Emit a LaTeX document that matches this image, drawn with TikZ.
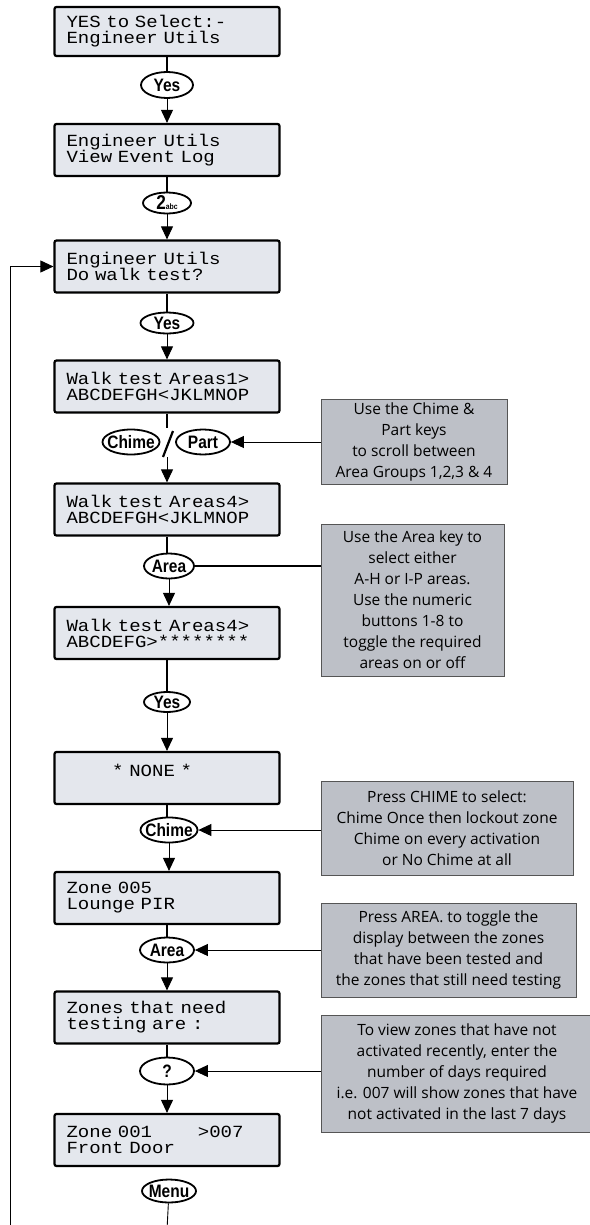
\documentclass[tikz,border=0pt]{standalone}
\usepackage{fontspec}
\usepackage{tikz}
\usetikzlibrary{
	arrows.meta,
	shapes.geometric
}
\newfontfamily\lcdfont[FakeStretch=1.12]{Liberation Mono}
\newfontfamily\keyfont[FakeStretch=0.86]{Liberation Sans}
\newfontfamily\notefont{Open Sans}
\definecolor{lcdgrey}{RGB}{228,231,237}
\definecolor{notegrey}{RGB}{189,192,199}
\definecolor{noteline}{RGB}{85,85,85}

\begin{document}
\begin{tikzpicture}[
		x=1pt, y=-1pt,
		>={Triangle[length=13pt,width=12pt]},
		lcd/.style={
			draw,
			line width=2.2pt,
			fill=lcdgrey,
			rounded corners=2pt,
			minimum height=52pt,
			text width=201pt,
			inner xsep=12pt,
			align=left,
			font=\lcdfont\fontsize{17}{16}\selectfont
		},
		key/.style={
			ellipse,
			draw,
			line width=1.8pt,
			fill=white,
			minimum width=54pt,
			minimum height=25pt,
			inner xsep=-7pt,
			inner ysep=-2pt,
			font=\keyfont\bfseries\fontsize{18}{18}\selectfont
		},
		note/.style={
			draw=noteline,
			line width=0.8pt,
			fill=notegrey,
			align=center,
			inner sep=0pt,
			font=\notefont\fontsize{15.5}{21}\selectfont
		},
		feed/.style={line width=2.4pt},
		flow/.style={->, line width=0.9pt}
		]
		
		\useasboundingbox (0,0) rectangle (589,1225);
		
		% Displays
		\node[lcd, minimum height=49pt] (b1) at (167,31.5) {YES to Select:-\\Engineer Utils};
		\node[lcd] (b2) at (167,150) {Engineer Utils\\View Event Log};
		\node[lcd] (b3) at (167,266.5) {Engineer Utils\\Do walk test?};
		\node[lcd] (b4) at (167,386.5) {Walk test Areas1>\\ABCDEFGH<JKLMNOP};
		\node[lcd] (b5) at (167,509.5) {Walk test Areas4>\\ABCDEFGH<JKLMNOP};
		\node[lcd] (b6) at (167,633) {Walk test Areas4>\\ABCDEFG>********};
		\node[lcd] (b7) at (167,778) {\hphantom{0000}* NONE *\\\mbox{}};
		\node[lcd] (b8) at (167,898) {Zone 005\\Lounge PIR};
		\node[lcd] (b9) at (167,1017.5) {Zones that need\\testing are :};
		\node[lcd] (b10) at (167,1140) {Zone 001\hphantom{0000}>007\\Front Door};
		
		% Keys
		\node[key, minimum width=52pt, minimum height=26pt] (k1) at (167,85) {Yes};
		\node[key, minimum width=48pt, minimum height=21pt] (k2) at (167,203) {{\fontsize{20}{20}\selectfont 2}{\fontsize{8}{8}\selectfont abc}};
		\node[key, minimum width=53pt, minimum height=21pt] (k3) at (167,323) {Yes};
		\node[key, minimum width=57pt] (chime1) at (131,442) {Chime};
		\node[key] (part) at (203,442) {Part};
		\node[key, minimum width=50pt] (area1) at (169,566) {Area};
		\node[key, minimum width=46pt, minimum height=20pt] (k4) at (167,702) {Yes};
		\node[key, minimum width=57pt] (chime2) at (169,830) {Chime};
		\node[key] (area2) at (167,950) {Area};
		\node[key, minimum height=27pt] (ask) at (167,1071) {?};
		\node[key, minimum height=23pt] (menu) at (169,1191) {Menu};
		
		% Notes
		\node[note, minimum width=186pt, minimum height=85pt] (n1) at (414,442) {Use the Chime \&\\Part keys\\to scroll between\\Area Groups 1,2,3 \& 4};
		\node[note, minimum width=183pt, minimum height=152pt] (n2) at (412.5,600) {Use the Area key to\\select either\\A-H or I-P areas.\\Use the numeric\\buttons 1-8 to\\toggle the required\\areas on or off};
		\node[note, minimum width=252pt, minimum height=94pt] (n3) at (447,828) {Press CHIME to select:\\Chime Once then lockout zone\\Chime on every activation\\or No Chime at all};
		\node[note, minimum width=255pt, minimum height=94pt] (n4) at (448.5,950) {Press AREA. to toggle the\\display between the zones\\that have been tested and\\the zones that still need testing};
		\node[note, minimum width=272pt, minimum height=117pt] (n5) at (457,1073.5) {To view zones that have not\\activated recently, enter the\\number of days required\\i.e. 007 will show zones that have\\not activated in the last 7 days};
		
		% Flow
		\foreach \a/\k/\b in {b1/k1/b2, b2/k2/b3, b3/k3/b4, b5/area1/b6, b6/k4/b7, b7/chime2/b8, b8/area2/b9, b9/ask/b10}{
			\draw[feed] (\a.south) -- (\a.south |- \k.north);
			\draw[flow] (\k.south) -- (\k.south |- \b.north);
		}
		
		% Chime / Part
		\coordinate (slashtop) at (167,428);
		\coordinate (slashbot) at (167,457);
		\draw[feed] (b4) -- (slashtop);
		\draw[line width=2.2pt] ([shift={(6,3)}]slashtop) -- ([shift={(-4,0)}]slashbot);
		\draw[flow] (slashbot) -- (b5);
		
		% Notes to keys
		\draw[flow] (n1) -- (part);
		\draw[feed] (area1) -- (area1 -| n2.west);
		\draw[flow] (n3.west |- chime2) -- (chime2);
		\draw[flow] (n4.west |- area2) -- (area2);
		\draw[flow] (n5.west |- ask) -- (ask);
		
		% Loop back
		\coordinate (loopend) at (10,1230);
		\coordinate (menuend) at (167,1230);
		\draw[line width=0.9pt] (menu) -- (menuend);
		\draw[flow] (loopend) |- (b3.west);
		
	\end{tikzpicture}
\end{document}
